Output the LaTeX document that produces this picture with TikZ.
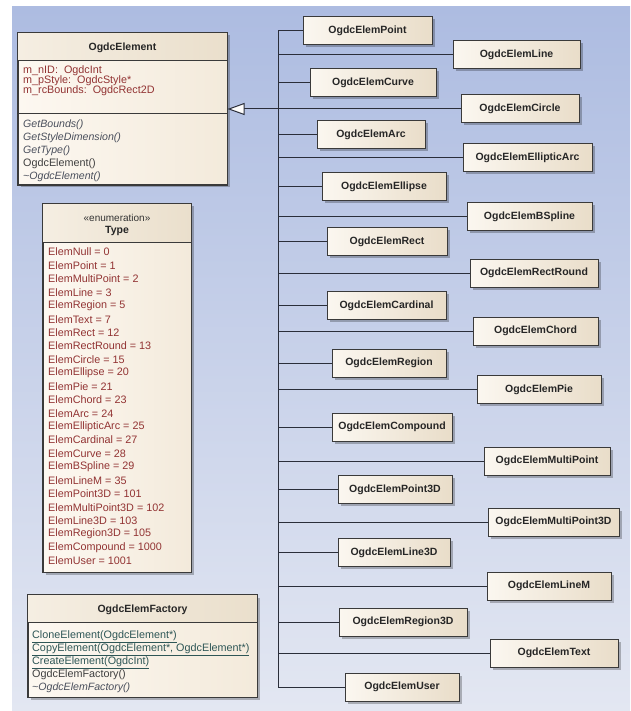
\documentclass[tikz,border=0pt]{standalone}
\usepackage{fontspec}
\setmainfont{Liberation Sans}
\usetikzlibrary{arrows.meta,calc,shadows}
\definecolor{bgtop}{HTML}{ADBCE1}
\definecolor{bgbot}{HTML}{E3E7F2}
\definecolor{boxl}{HTML}{FBF7F0}
\definecolor{boxr}{HTML}{E9DDC9}
\definecolor{bodyl}{HTML}{FDF8F1}
\definecolor{bodyr}{HTML}{F3EADB}
\definecolor{hdrl}{HTML}{F5EEE2}
\definecolor{hdrr}{HTML}{EADFCC}
\definecolor{edge}{HTML}{3A3A3A}
\definecolor{attr}{HTML}{923333}
\definecolor{meth}{HTML}{4A4F5C}
\definecolor{stat}{HTML}{2E5656}
\definecolor{wire}{HTML}{2A2E3A}
\begin{document}
\begin{tikzpicture}[x=1pt,y=-1pt,
  leaf/.style={draw=edge, line width=1pt, left color=boxl, right color=boxr,
    minimum height=28pt, inner sep=0pt, text=black!85,
    font=\bfseries\fontsize{10.5}{12}\selectfont,
    drop shadow={shadow xshift=2.5pt, shadow yshift=-2.5pt, opacity=0.25, fill=black}},
  classbox/.style={draw=edge, line width=1pt, left color=bodyl, right color=bodyr, inner sep=0pt,
    drop shadow={shadow xshift=2.5pt, shadow yshift=-2.5pt, opacity=0.25, fill=black}},
  sepline/.style={draw=edge, line width=1pt},
  conn/.style={draw=wire, line width=1pt},
  ttl/.style={inner sep=0pt, text=black!85, font=\bfseries\fontsize{10.5}{12}\selectfont},
  txt/.style={anchor=west, inner sep=0pt, font=\fontsize{10.8}{12}\selectfont},
  attrtxt/.style={txt, text=attr},
  methit/.style={txt, text=meth, font=\itshape\fontsize{10.6}{12}\selectfont},
  methrm/.style={txt, text=black!75},
  methst/.style={txt, text=stat}
]
\useasboundingbox (0,0) rectangle (630,711);
\fill[white] (0,0) rectangle (630,711);
\shade[top color=bgtop, bottom color=bgbot] (12,7) rectangle (630,711);

% ---------- OgdcElement ----------
\node[classbox, minimum width=209pt, minimum height=152pt] (elem) at (122.5,109) {};
\shade[left color=hdrl, right color=hdrr] ([shift={(0.5,0.5)}]elem.north west) rectangle ($(elem.east |- 0,61)+(-0.5,0)$);
\draw[sepline] (elem.north west) rectangle (elem.south east);
\draw[sepline] (elem.west |- 0,61) -- (elem.east |- 0,61);
\draw[sepline] (elem.west |- 0,114) -- (elem.east |- 0,114);
\node[ttl] (elemT) at (122.5,48) {OgdcElement};
\node[attrtxt] (ea1) at (23,71) {m\_nID:\ \ OgdcInt};
\node[attrtxt] (ea2) at (23,81) {m\_pStyle:\ \ OgdcStyle*};
\node[attrtxt] (ea3) at (23,91) {m\_rcBounds:\ \ OgdcRect2D};
\node[methit] (em1) at (23,125) {GetBounds()};
\node[methit] (em2) at (23,138) {GetStyleDimension()};
\node[methit] (em3) at (23,151) {GetType()};
\node[methrm] (em4) at (23,164) {OgdcElement()};
\node[methit] (em5) at (23,177) {\textasciitilde OgdcElement()};

% ---------- enumeration Type ----------
\node[classbox, minimum width=148pt, minimum height=368pt] (enum) at (117,388) {};
\shade[left color=hdrl, right color=hdrr] ([shift={(0.5,0.5)}]enum.north west) rectangle ($(enum.east |- 0,242)+(-0.5,0)$);
\draw[sepline] (enum.north west) rectangle (enum.south east);
\draw[sepline] (enum.west |- 0,242) -- (enum.east |- 0,242);
\node[inner sep=0pt, text=black!80, font=\fontsize{10}{12}\selectfont] (enumS) at (117,218) {«enumeration»};
\node[ttl] (enumT) at (117,231) {Type};
\foreach \t [count=\i from 0] in {ElemNull = 0, ElemPoint = 1, ElemMultiPoint = 2, ElemLine = 3,
  ElemRegion = 5, ElemText = 7, ElemRect = 12, ElemRectRound = 13, ElemCircle = 15,
  ElemEllipse = 20, ElemPie = 21, ElemChord = 23, ElemArc = 24, ElemEllipticArc = 25,
  ElemCardinal = 27, ElemCurve = 28, ElemBSpline = 29, ElemLineM = 35, ElemPoint3D = 101,
  ElemMultiPoint3D = 102, ElemLine3D = 103, ElemRegion3D = 105, ElemCompound = 1000,
  ElemUser = 1001}
  \node[attrtxt] (en\i) at (48,252+13.43*\i) {\t};

% ---------- OgdcElemFactory ----------
\node[classbox, minimum width=229pt, minimum height=102pt] (fac) at (142.5,646) {};
\shade[left color=hdrl, right color=hdrr] ([shift={(0.5,0.5)}]fac.north west) rectangle ($(fac.east |- 0,622)+(-0.5,0)$);
\draw[sepline] (fac.north west) rectangle (fac.south east);
\draw[sepline] (fac.west |- 0,622) -- (fac.east |- 0,622);
\node[ttl] (facT) at (142.5,610) {OgdcElemFactory};
\node[methst] (fm1) at (32,637) {\underline{CloneElement(OgdcElement*)}};
\node[methst] (fm2) at (32,650) {\underline{CopyElement(OgdcElement*, OgdcElement*)}};
\node[methst] (fm3) at (32,663) {\underline{CreateElement(OgdcInt)}};
\node[methrm] (fm4) at (32,675) {OgdcElemFactory()};
\node[methit] (fm5) at (32,688) {\textasciitilde OgdcElemFactory()};

% ---------- leaf classes ----------
\node[leaf, minimum width=129pt] (pt) at (367.5,30.5) {OgdcElemPoint};
\node[leaf, minimum width=127pt] (ln) at (516.5,54.5) {OgdcElemLine};
\node[leaf, minimum width=126pt] (cv) at (373,83) {OgdcElemCurve};
\node[leaf, minimum width=118pt] (ci) at (520,109) {OgdcElemCircle};
\node[leaf, minimum width=108pt] (ar) at (371,134.5) {OgdcElemArc};
\node[leaf, minimum width=129pt] (ea) at (527.5,158) {OgdcElemEllipticArc};
\node[leaf, minimum width=124pt] (el) at (384,186.5) {OgdcElemEllipse};
\node[leaf, minimum width=125pt] (bs) at (529.5,216.5) {OgdcElemBSpline};
\node[leaf, minimum width=120pt] (rc) at (387,241.5) {OgdcElemRect};
\node[leaf, minimum width=128pt] (rr) at (534,273) {OgdcElemRectRound};
\node[leaf, minimum width=119pt] (cd) at (386.5,305.5) {OgdcElemCardinal};
\node[leaf, minimum width=125pt] (ch) at (535.5,331) {OgdcElemChord};
\node[leaf, minimum width=114pt] (rg) at (389,363) {OgdcElemRegion};
\node[leaf, minimum width=124pt] (pi) at (539,389.5) {OgdcElemPie};
\node[leaf, minimum width=120pt] (cp) at (392,427) {OgdcElemCompound};
\node[leaf, minimum width=126pt] (mp) at (547,461) {OgdcElemMultiPoint};
\node[leaf, minimum width=114pt] (p3) at (395,489.5) {OgdcElemPoint3D};
\node[leaf, minimum width=131pt] (m3) at (553.5,522) {OgdcElemMultiPoint3D};
\node[leaf, minimum width=112pt] (l3) at (394,552.5) {OgdcElemLine3D};
\node[leaf, minimum width=124pt] (lm) at (549,586) {OgdcElemLineM};
\node[leaf, minimum width=128pt] (r3) at (403,622) {OgdcElemRegion3D};
\node[leaf, minimum width=128pt] (tx) at (554,653) {OgdcElemText};
\node[leaf, minimum width=114pt] (us) at (402,687) {OgdcElemUser};

% ---------- connectors ----------
\coordinate (trunk) at (278,0);
\draw[conn] (trunk |- pt.west) -- (trunk |- us.west);
\foreach \n in {pt,ln,cv,ci,ar,ea,el,bs,rc,rr,cd,ch,rg,pi,cp,mp,p3,m3,l3,lm,r3,tx,us}
  \draw[conn] (\n.west) -- (trunk |- \n.west);
\draw[conn, -{Triangle[length=17pt, width=12pt, fill=white!92!bodyr]}] (trunk |- ci.west) -- (elem.east |- ci.west);
\end{tikzpicture}
\end{document}
